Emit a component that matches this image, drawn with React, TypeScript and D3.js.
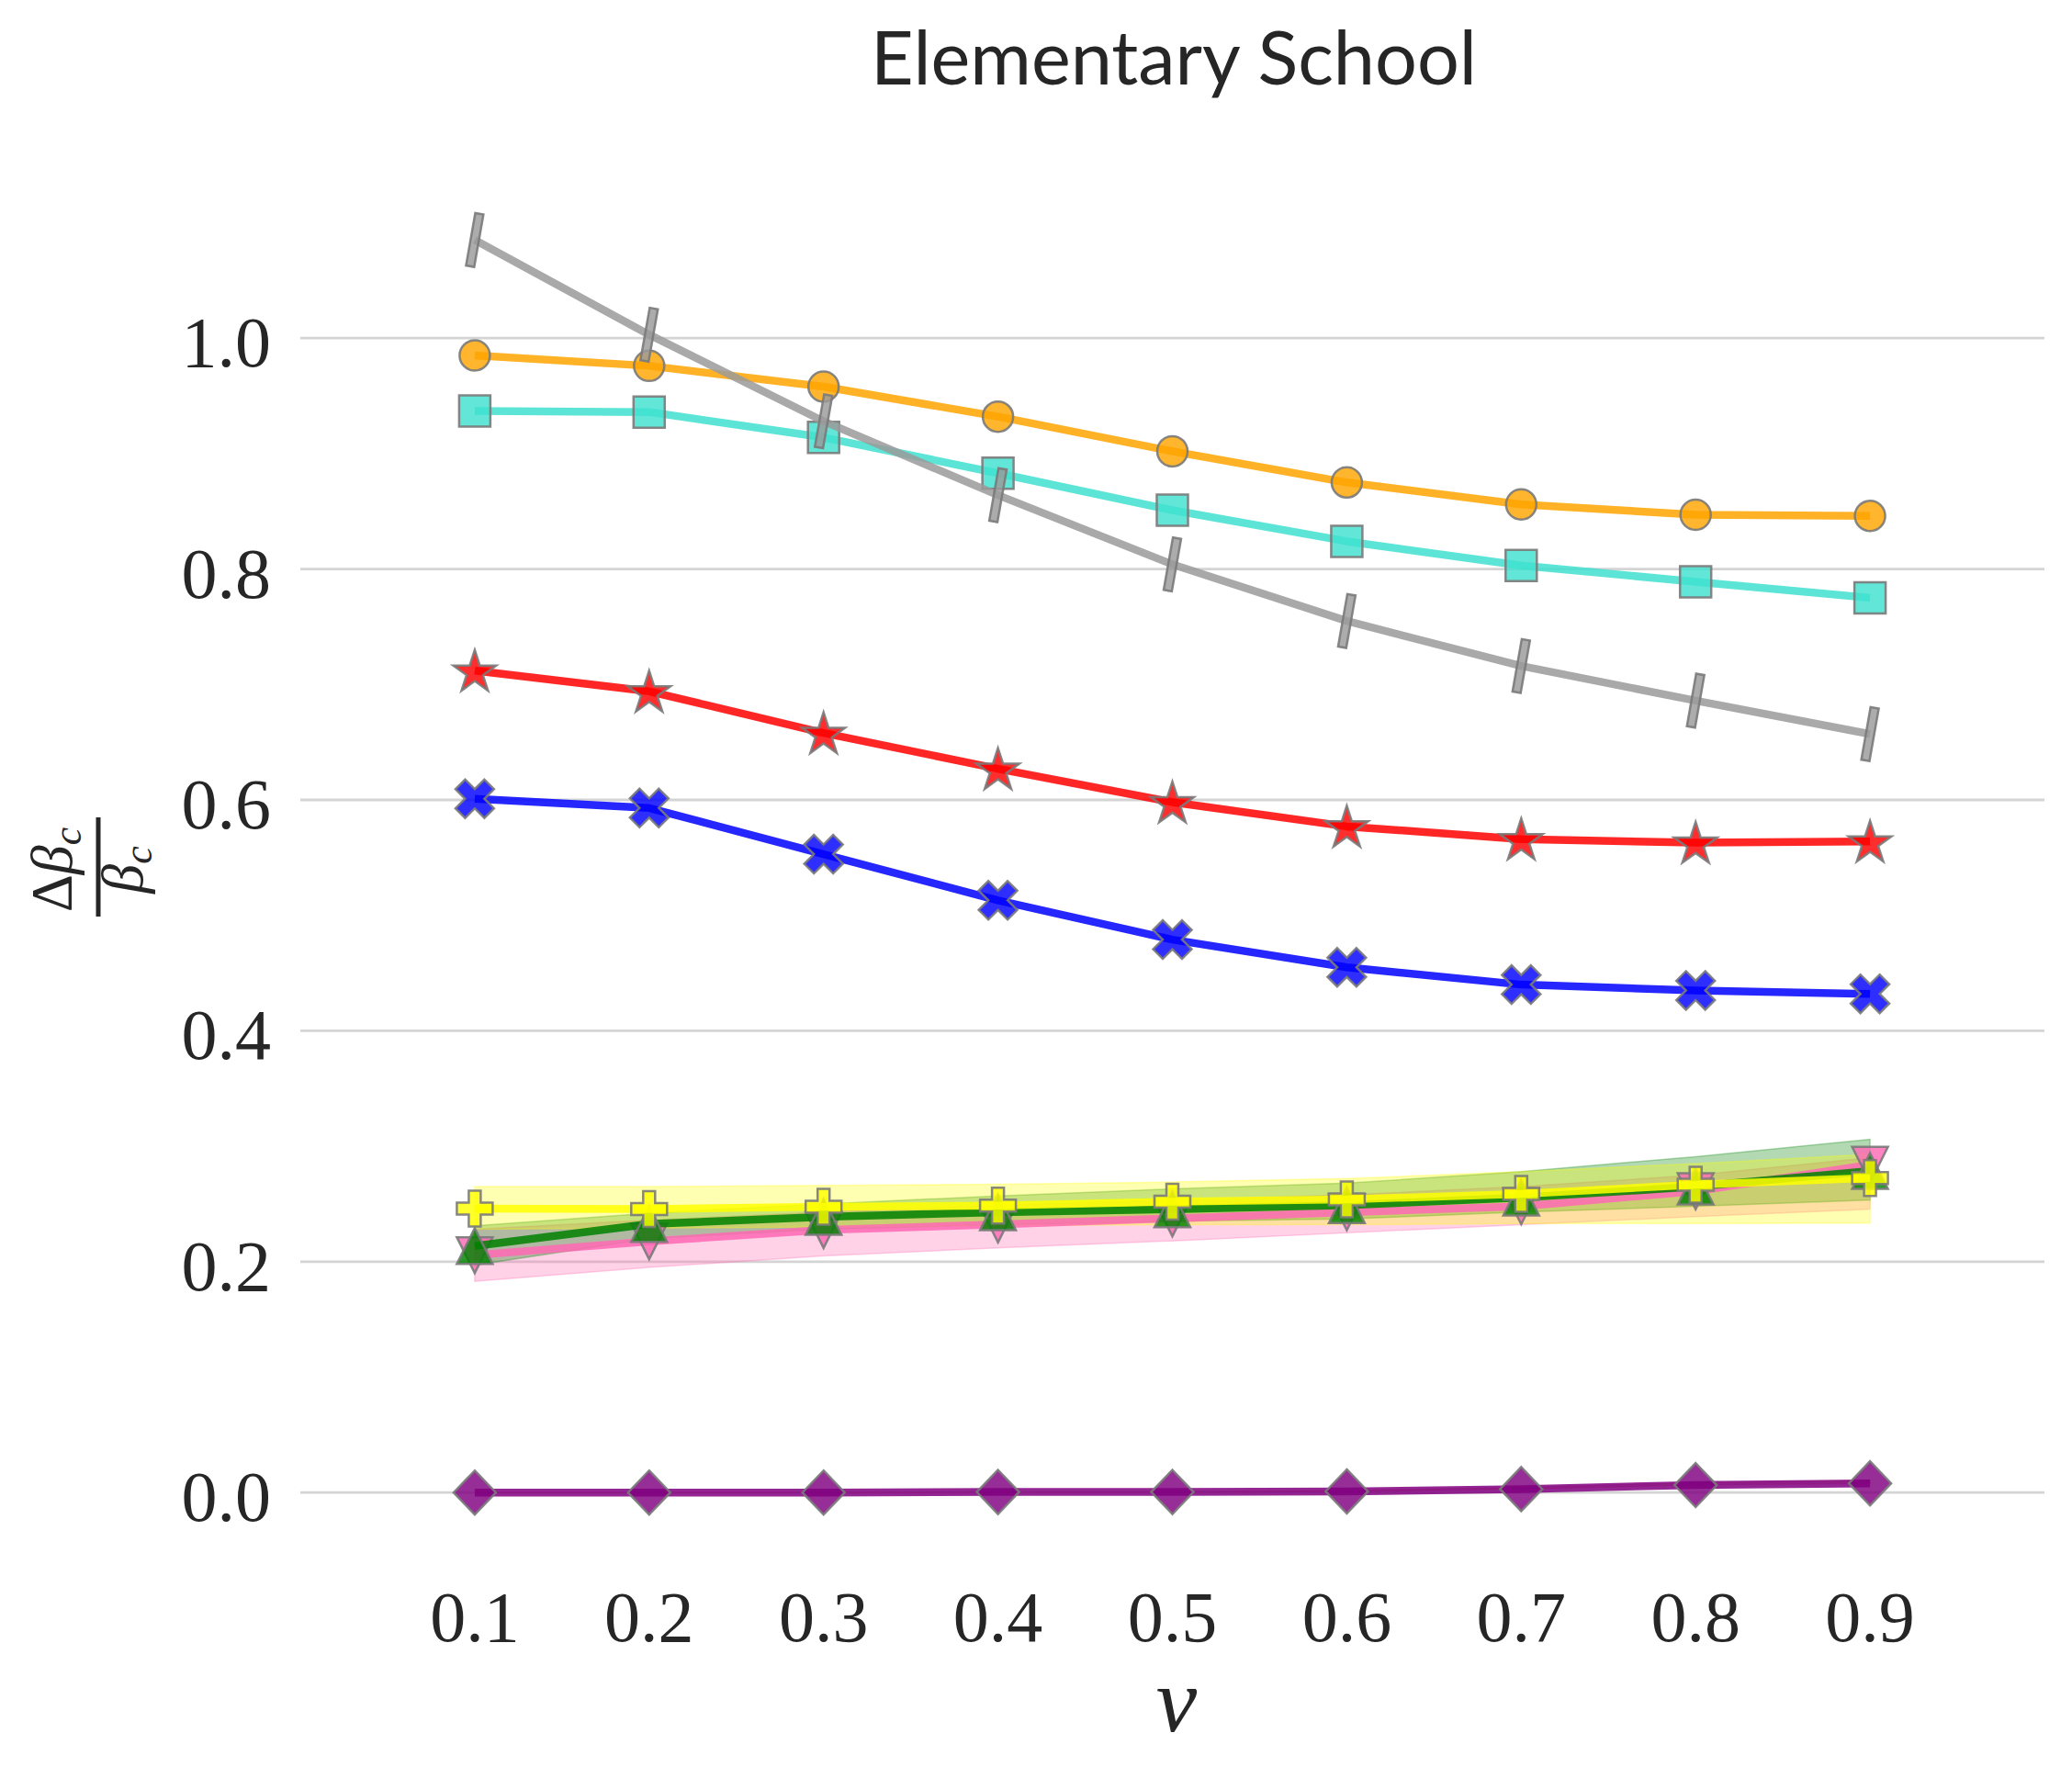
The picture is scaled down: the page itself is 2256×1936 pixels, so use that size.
import React from "react";
import * as d3 from "d3";

const nu = [0.1, 0.2, 0.3, 0.4, 0.5, 0.6, 0.7, 0.8, 0.9];
const xTickLabels = ["0.1", "0.2", "0.3", "0.4", "0.5", "0.6", "0.7", "0.8", "0.9"];
const yTicks = [0.0, 0.2, 0.4, 0.6, 0.8, 1.0];
const yTickLabels = ["0.0", "0.2", "0.4", "0.6", "0.8", "1.0"];

const orangeVals = [0.985, 0.976, 0.958, 0.932, 0.902, 0.875, 0.856, 0.847, 0.846];
const turquoiseVals = [0.937, 0.936, 0.914, 0.883, 0.851, 0.824, 0.803, 0.789, 0.775];
const grayVals = [1.085, 1.003, 0.928, 0.864, 0.804, 0.755, 0.716, 0.686, 0.657];
const redVals = [0.712, 0.694, 0.658, 0.627, 0.598, 0.577, 0.566, 0.563, 0.564];
const blueVals = [0.601, 0.593, 0.553, 0.513, 0.479, 0.455, 0.44, 0.435, 0.432];
const yellowVals = [0.246, 0.2455, 0.2476, 0.2486, 0.252, 0.254, 0.2587, 0.2667, 0.2725];
const greenVals = [0.2136, 0.2327, 0.2388, 0.2428, 0.2454, 0.249, 0.2555, 0.265, 0.2786];
const pinkVals = [0.2057, 0.2176, 0.2274, 0.2322, 0.2375, 0.2428, 0.248, 0.261, 0.284];
const purpleVals = [0.0, 0.0, 0.0, 0.0005, 0.0005, 0.001, 0.003, 0.0065, 0.008];

const yellowLow = [0.228, 0.229, 0.23, 0.231, 0.232, 0.232, 0.233, 0.233, 0.2335];
const yellowHigh = [0.265, 0.265, 0.266, 0.267, 0.269, 0.272, 0.278, 0.285, 0.293];
const greenLow = [0.197, 0.22, 0.228, 0.232, 0.235, 0.237, 0.243, 0.248, 0.2534];
const greenHigh = [0.231, 0.242, 0.25, 0.257, 0.263, 0.268, 0.278, 0.291, 0.306];
const pinkLow = [0.183, 0.195, 0.205, 0.212, 0.218, 0.225, 0.232, 0.239, 0.2455];
const pinkHigh = [0.228, 0.236, 0.243, 0.249, 0.253, 0.258, 0.265, 0.275, 0.29];
const purpleLow = [0.0, 0.0, 0.0, 0.0005, 0.0005, 0.001, 0.003, 0.0065, 0.008];
const purpleHigh = [0.0, 0.0, 0.0, 0.0006, 0.0008, 0.0018, 0.0045, 0.0085, 0.0105];

type Series = { name: string; color: string; marker: string; values: number[]; low?: number[]; high?: number[]; bandColor?: string };

const series: Series[] = [
  { name: "orange", color: "#FFA500", marker: "circle", values: orangeVals },
  { name: "turquoise", color: "#40E0D0", marker: "square", values: turquoiseVals },
  { name: "red", color: "#FF0000", marker: "star", values: redVals },
  { name: "blue", color: "#0000FF", marker: "x", values: blueVals },
  { name: "purple", color: "#800080", marker: "diamond", values: purpleVals, low: purpleLow, high: purpleHigh, bandColor: "#d0402a" },
  { name: "pink", color: "#FF69B4", marker: "tridown", values: pinkVals, low: pinkLow, high: pinkHigh, bandColor: "#FF69B4" },
  { name: "green", color: "#008000", marker: "triup", values: greenVals, low: greenLow, high: greenHigh, bandColor: "#008000" },
  { name: "yellow", color: "#FFFF00", marker: "plus", values: yellowVals, low: yellowLow, high: yellowHigh, bandColor: "#FFFF00" },
  { name: "gray", color: "#9a9a9a", marker: "bar", values: grayVals },
];

const W = 2256;
const H = 1936;

function markerPath(shape: string): string {
  switch (shape) {
    case "circle":
      return d3.symbol(d3.symbolCircle, Math.PI * 16.5 * 16.5)() as string;
    case "square": {
      const s = 17;
      return `M${-s},${-s}L${s},${-s}L${s},${s}L${-s},${s}Z`;
    }
    case "star": {
      const R = 24.5;
      const r = R * 0.382;
      const pts: string[] = [];
      for (let i = 0; i < 10; i++) {
        const a = -Math.PI / 2 + (i * Math.PI) / 5;
        const rr = i % 2 === 0 ? R : r;
        pts.push(`${(rr * Math.cos(a)).toFixed(2)},${(rr * Math.sin(a) + 2).toFixed(2)}`);
      }
      return "M" + pts.join("L") + "Z";
    }
    case "x":
    case "plus": {
      const L = shape === "x" ? 44.5 : 39;
      const a = L / 6;
      const b = L / 2;
      const p = [[-a, -b], [a, -b], [a, -a], [b, -a], [b, a], [a, a], [a, b], [-a, b], [-a, a], [-b, a], [-b, -a], [-a, -a]];
      const ang = shape === "x" ? Math.PI / 4 : 0;
      const c = Math.cos(ang), s = Math.sin(ang);
      return "M" + p.map(([x, y]) => `${(x * c - y * s).toFixed(2)},${(x * s + y * c).toFixed(2)}`).join("L") + "Z";
    }
    case "diamond": {
      const w = 23, h = 24;
      return `M0,${-h}L${w},0L0,${h}L${-w},0Z`;
    }
    case "triup": {
      const r = 19.5;
      return `M0,${-r}L${r},${r}L${-r},${r}Z`;
    }
    case "tridown": {
      const r = 19.5;
      return `M0,${r}L${r},${-r}L${-r},${-r}Z`;
    }
    case "bar":
      return `M-4.5,-29L4.5,-29L4.5,29L-4.5,29Z`;
  }
  return "";
}

export default function App() {
  const x = d3.scaleLinear().domain([0, 1]).range([327, 2226]);
  const y = d3.scaleLinear().domain([0, 1]).range([1625.2, 368.2]);

  const line = d3
    .line<number>()
    .x((_, i) => x(nu[i]))
    .y((d) => y(d));

  const area = (low: number[], high: number[]) =>
    d3
      .area<number>()
      .x((_, i) => x(nu[i]))
      .y0((_, i) => y(low[i]))
      .y1((_, i) => y(high[i]))(nu) as string;

  const textColor = "#262626";

  return (
    <svg width={W} height={H} style={{ position: "fixed", left: 0, top: 0, background: "#fff" }}>
      <rect x={0} y={0} width={W} height={H} fill="#fff" />
      {yTicks.map((t) => (
        <line key={"g" + t} x1={327} x2={2226} y1={y(t)} y2={y(t)} stroke="#d4d4d4" strokeWidth={2.8} />
      ))}
      {yTicks.map((t, i) => (
        <text key={"yl" + t} x={295} y={y(t) + 31} textAnchor="end" fontFamily="Liberation Serif" fontSize={78} fill={textColor}>
          {yTickLabels[i]}
        </text>
      ))}
      {nu.map((t, i) => (
        <text key={"xl" + t} x={x(t)} y={1787} textAnchor="middle" fontFamily="Liberation Serif" fontSize={78} fill={textColor}>
          {xTickLabels[i]}
        </text>
      ))}
      <text x={1278} y={92} textAnchor="middle" fontFamily="Lato" fontSize={82} fill={textColor} textLength={660} lengthAdjust="spacingAndGlyphs">
        Elementary School
      </text>
      <text x={1281} y={1885} textAnchor="middle" fontFamily="Liberation Serif" fontStyle="italic" fontSize={100} fill={textColor}>
        ν
      </text>
      <g transform="translate(107,944) rotate(-90)" fill={textColor} fontFamily="Liberation Serif">
        <text x={-3} y={-29} textAnchor="middle" fontSize={64}>
          <tspan>Δ</tspan>
          <tspan fontStyle="italic">β</tspan>
          <tspan fontStyle="italic" fontSize={44} dy={10}>c</tspan>
        </text>
        <line x1={-54} x2={54} y1={0} y2={0} stroke={textColor} strokeWidth={5} />
        <text x={-3} y={48} textAnchor="middle" fontSize={64}>
          <tspan fontStyle="italic">β</tspan>
          <tspan fontStyle="italic" fontSize={44} dy={10}>c</tspan>
        </text>
      </g>
      {series.filter((s) => s.low && s.high).map((s) => (
        <path key={"b" + s.name} d={area(s.low!, s.high!)} fill={s.bandColor} fillOpacity={0.3} stroke={s.bandColor} strokeOpacity={0.3} strokeWidth={1.5} />
      ))}
      {series.map((s) => (
        <g key={"s" + s.name}>
          <path d={line(s.values) as string} fill="none" stroke={s.color} strokeWidth={8.5} strokeOpacity={0.85} strokeLinejoin="round" />
          {s.values.map((v, i) => (
            <path
              key={i}
              d={markerPath(s.marker)}
              transform={`translate(${x(nu[i])},${y(v)})${s.marker === "bar" ? " rotate(10)" : ""}`}
              fill={s.color}
              fillOpacity={0.82}
              stroke="#7a7a7a"
              strokeOpacity={0.9}
              strokeWidth={2.5}
            />
          ))}
        </g>
      ))}
    </svg>
  );
}
